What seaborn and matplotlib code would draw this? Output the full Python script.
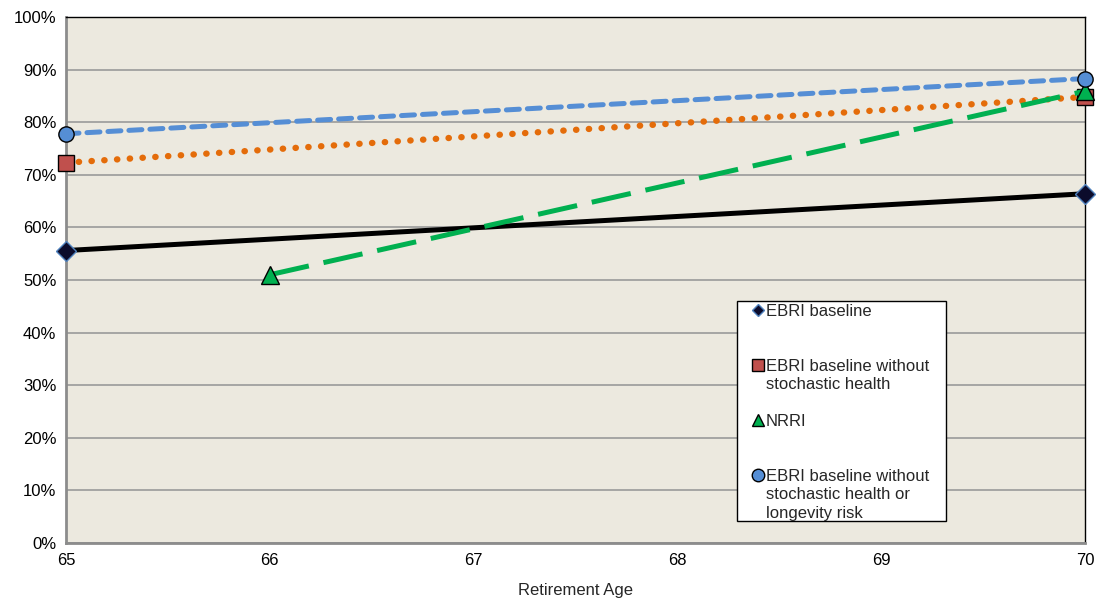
import matplotlib
matplotlib.use("Agg")
import matplotlib.pyplot as plt
from matplotlib.patches import Rectangle
from matplotlib.ticker import PercentFormatter
import seaborn as sns

# Replacement rate success by retirement age
ages_ebri = [65, 70]
ebri_baseline = [55.6, 66.4]
ebri_no_health = [72.3, 84.8]
ages_nrri = [66, 70]
nrri = [51.0, 85.9]
ebri_no_health_longevity = [77.8, 88.3]

labels = [
    "EBRI baseline",
    "EBRI baseline without\nstochastic health",
    "NRRI",
    "EBRI baseline without\nstochastic health or\nlongevity risk",
]

sns.set_theme(style="white")
plt.rcParams["font.family"] = ["Liberation Sans", "DejaVu Sans"]

fig = plt.figure(figsize=(10.97, 6.0), dpi=100)
ax = fig.add_axes([66 / 1097, 1 - 543 / 600, (1085 - 66) / 1097, (543 - 17) / 600])
ax.set_facecolor("#ECE9DF")

lw = 3.6
sns.lineplot(x=ages_ebri, y=ebri_baseline, ax=ax, color="black", lw=lw,
             marker="D", markersize=10, markerfacecolor="#0B0B2B",
             markeredgecolor="#4F81BD", markeredgewidth=1, zorder=4)
sns.lineplot(x=ages_ebri, y=ebri_no_health, ax=ax, color="#E46C0A", lw=4.6,
             linestyle=(0, (0.05, 1.95)), dash_capstyle="round",
             marker="s", markersize=12, markerfacecolor="#C0504D",
             markeredgecolor="black", markeredgewidth=1, zorder=4)
sns.lineplot(x=ages_nrri, y=nrri, ax=ax, color="#00B050", lw=lw,
             linestyle=(0, (8, 3)), dash_capstyle="butt",
             marker="^", markersize=13, markerfacecolor="#00B050",
             markeredgecolor="black", markeredgewidth=1, zorder=4)
sns.lineplot(x=ages_ebri, y=ebri_no_health_longevity, ax=ax, color="#558ED5", lw=lw,
             linestyle=(0, (2.6, 1.6)), dash_capstyle="round",
             marker="o", markersize=11, markerfacecolor="#558ED5",
             markeredgecolor="black", markeredgewidth=1, zorder=4)

for l in ax.get_lines():
    l.set_clip_on(False)

ax.set_xlim(65, 70)
ax.set_ylim(0, 100)
ax.set_xticks(range(65, 71))
ax.set_yticks(range(0, 101, 10))
ax.yaxis.set_major_formatter(PercentFormatter(decimals=0))
ax.grid(axis="y", color="#9A9A9A", lw=1.2)
ax.set_axisbelow(True)
ax.tick_params(axis="both", labelsize=12, colors="black", length=4, width=1,
               direction="out", pad=3)
ax.tick_params(axis="x", length=0, pad=7)
ax.tick_params(axis="y", color="#8C8C8C")
ax.set_xlabel("Retirement Age", fontsize=12, labelpad=11)
ax.set_ylabel("")
for side in ("left", "bottom"):
    ax.spines[side].set_color("#8C8C8C")
    ax.spines[side].set_linewidth(2)
for side in ("top", "right"):
    ax.spines[side].set_color("black")
    ax.spines[side].set_linewidth(1)

# Legend box with markers aligned to the first line of each label
H = 526.0
W = 1019.0


def ax_xy(px, py):
    return (px - 66) / W, (543 - py) / H


x0, y0 = ax_xy(737, 521)
x1, y1 = ax_xy(946, 301)
ax.add_patch(Rectangle((x0, y0), x1 - x0, y1 - y0, transform=ax.transAxes,
                       facecolor="white", edgecolor="black", lw=1, zorder=6,
                       clip_on=False))

legend_markers = [
    dict(marker="D", markersize=6, markerfacecolor="#0B0B2B", markeredgecolor="#4F81BD"),
    dict(marker="s", markersize=9, markerfacecolor="#C0504D", markeredgecolor="black"),
    dict(marker="^", markersize=9, markerfacecolor="#00B050", markeredgecolor="black"),
    dict(marker="o", markersize=9, markerfacecolor="#558ED5", markeredgecolor="black"),
]
first_line_y = [310, 365, 420, 475]
for lab, mk, py in zip(labels, legend_markers, first_line_y):
    mx, my = ax_xy(758, py)
    ax.plot([mx], [my], transform=ax.transAxes, linestyle="none",
            markeredgewidth=1, zorder=7, clip_on=False, **mk)
    tx, ty = ax_xy(766, py - 6)
    ax.text(tx, ty, lab, transform=ax.transAxes, fontsize=12, va="top",
            ha="left", linespacing=1.28, zorder=7)

fig.savefig("out.png", dpi=100)
